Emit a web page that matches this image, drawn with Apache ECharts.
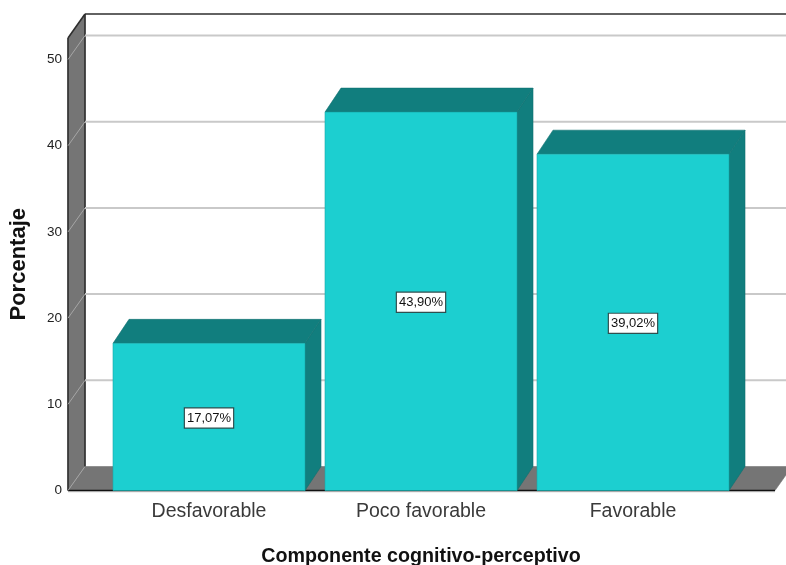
<!DOCTYPE html>
<html>
<head>
<meta charset="utf-8">
<style>html,body{margin:0;padding:0;background:#fff}#c{width:786px;height:565px}</style>
<script src="https://cdn.jsdelivr.net/npm/echarts@6/dist/echarts.min.js"></script>
</head>
<body>
<div id="c"></div>
<script>
const categories = ['Desfavorable', 'Poco favorable', 'Favorable'];
const percentages = [17.07, 43.90, 39.02];
const dataLabels = ['17,07%', '43,90%', '39,02%'];
const yTicks = [0, 10, 20, 30, 40, 50];
const yMax = 52.5;
const xTitle = 'Componente cognitivo-perceptivo';
const yTitle = 'Porcentaje';

const DX = 17, DY = 24, BAR_DX = 16, WALL_OUT = 35, FLOOR_OUT = 36;
const FRONT = '#1CCFD0', SIDE = '#117E7E', WALL = '#757575', GRID = '#C9C9C9', EDGE = '#2E2E2E';
const font = '"Liberation Sans", Arial, sans-serif';

function poly(points, fill, stroke, lw) {
  return { type: 'polygon', shape: { points }, style: { fill, stroke: stroke || fill, lineWidth: lw || 0.6 } };
}
function seg(x1, y1, x2, y2, stroke, lw) {
  return { type: 'line', shape: { x1, y1, x2, y2 }, style: { stroke, lineWidth: lw } };
}

function renderFrame(params, api) {
  const tick = api.value(1);
  const cs = params.coordSys;
  const L = cs.x - WALL_OUT, R = cs.x + cs.width + FLOOR_OUT;
  const y = api.coord([0, tick])[1];
  const children = [];
  if (params.dataIndex === 0) {
    const t = cs.y, b = cs.y + cs.height;
    children.push(
      poly([[L, t], [L + DX, t - DY], [L + DX, b - DY], [L, b]], WALL),
      poly([[L, b], [L + DX, b - DY], [R + DX, b - DY], [R, b]], WALL),
      seg(L, t, L, b, EDGE, 1.6),
      seg(L + DX, t - DY, L + DX, b - DY, EDGE, 1.6),
      seg(L, t, L + DX, t - DY, EDGE, 1.6),
      seg(L + DX, t - DY, 800, t - DY, EDGE, 1.6),
      seg(L, b, R, b, '#111', 1.6),
      seg(L, b + 1.2, R, b + 1.2, '#9A9A9A', 0.8)
    );
  }
  if (tick > 0) {
    children.push(seg(L + DX, y - DY, 800, y - DY, GRID, 2));
  }
  children.push(seg(L, y, L + DX, y - DY, '#A6A6A6', 1));
  return { type: 'group', children };
}

function renderBar(params, api) {
  const i = api.value(0);
  const top = api.coord([i, api.value(1)]);
  const base = api.coord([i, 0]);
  const w = api.size([1, 0])[0] * 192 / 212;
  const l = top[0] - w / 2, r = top[0] + w / 2;
  const t = top[1], b = base[1];
  return {
    type: 'group',
    children: [
      poly([[r, t], [r + BAR_DX, t - DY], [r + BAR_DX, b - DY], [r, b]], SIDE, '#0F7070'),
      poly([[l, t], [l + BAR_DX, t - DY], [r + BAR_DX, t - DY], [r, t]], SIDE, '#0F7070'),
      { type: 'rect', shape: { x: l, y: t, width: w, height: b - t },
        style: { fill: FRONT, stroke: '#17A9AA', lineWidth: 0.6 } },
      { type: 'text', x: top[0], y: (t + b) / 2 + 1,
        style: {
          text: dataLabels[params.dataIndex], fill: '#111', font: '13px ' + font,
          align: 'center', verticalAlign: 'middle', backgroundColor: '#fff',
          borderColor: '#2F4F4F', borderWidth: 1.2, padding: [3, 2, 3, 2]
        } }
    ]
  };
}

const chart = echarts.init(document.getElementById('c'), null, { renderer: 'canvas' });
chart.setOption({
  animation: false,
  backgroundColor: '#fff',
  grid: { left: 103, right: 47, top: 38, bottom: 74.5, containLabel: false, outerBoundsMode: 'none' },
  xAxis: {
    type: 'category', data: categories,
    axisLine: { show: false }, axisTick: { show: false }, splitLine: { show: false },
    axisLabel: { color: '#3a3a3a', fontFamily: font, fontSize: 19.5, margin: 11 },
    name: xTitle, nameLocation: 'middle', nameGap: 56,
    nameTextStyle: { color: '#111', fontFamily: font, fontSize: 19.7, fontWeight: 'bold' }
  },
  yAxis: {
    type: 'value', min: 0, max: yMax,
    axisLine: { show: false }, splitLine: { show: false },
    axisLabel: { color: '#222', fontFamily: font, fontSize: 13.5, margin: 41, customValues: yTicks },
    axisTick: { show: false, customValues: yTicks },
    name: yTitle, nameLocation: 'middle', nameGap: 73, nameRotate: 90,
    nameTextStyle: { color: '#111', fontFamily: font, fontSize: 22, fontWeight: 'bold' }
  },
  series: [
    { type: 'custom', name: 'frame', z: 1, silent: true, renderItem: renderFrame,
      encode: { x: 0, y: 1 }, data: yTicks.map(t => [0, t]) },
    { type: 'custom', name: 'Porcentaje', z: 2, renderItem: renderBar,
      encode: { x: 0, y: 1 }, data: percentages.map((v, i) => [i, v]) }
  ]
});
</script>
</body>
</html>
